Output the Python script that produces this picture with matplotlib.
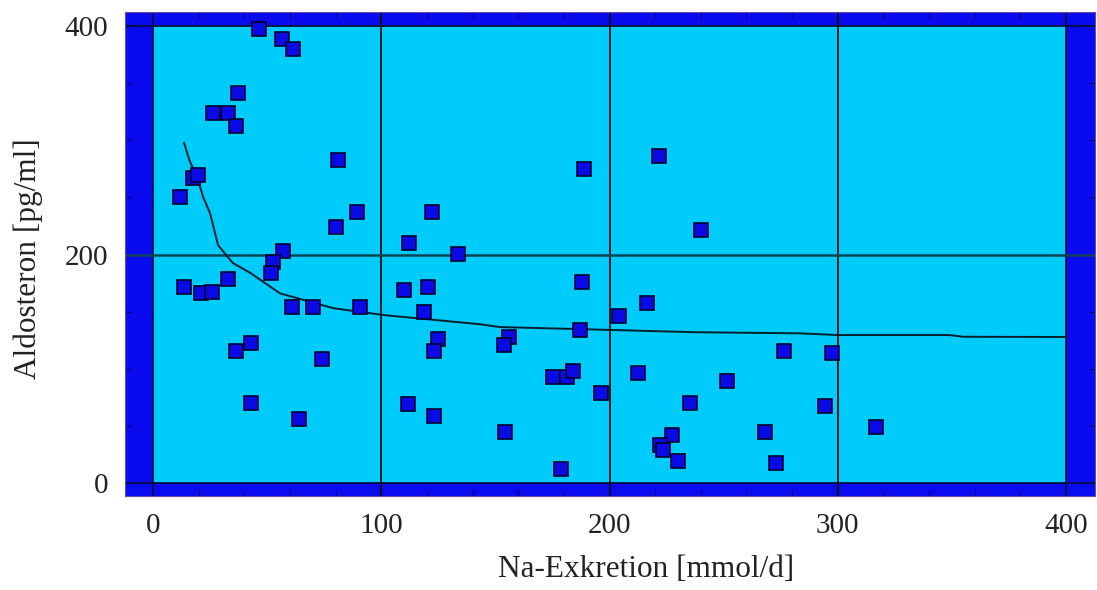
import matplotlib
matplotlib.use("Agg")
import matplotlib.pyplot as plt
from matplotlib.ticker import MultipleLocator

# ---- data ----
na_excretion = [46.6, 56.7, 61.2, 37.4, 26.4, 32.7, 36.4, 81.0, 17.4, 19.9,
                11.8, 89.2, 80.2, 122.4, 112.0, 133.5, 56.8, 52.7, 51.8, 13.7,
                20.9, 26.0, 32.7, 110.1, 120.3, 60.9, 70.0, 90.7, 118.7, 125.0,
                123.1, 36.4, 42.8, 74.2, 42.8, 64.0, 111.9, 123.1, 188.8, 221.7,
                240.0, 187.8, 216.3, 204.3, 187.1, 156.1, 153.8, 175.1, 181.5, 184.1,
                196.1, 212.6, 251.6, 276.4, 297.3, 235.3, 294.4, 154.2, 178.6, 227.2,
                222.1, 223.3, 230.1, 268.1, 272.9, 316.8]
aldosteron = [397.0, 389.0, 379.6, 341.0, 323.6, 323.6, 312.5, 283.0, 266.7, 269.6,
              250.6, 237.5, 224.4, 237.5, 209.8, 200.4, 203.3, 193.7, 184.0, 171.3,
              166.0, 167.4, 178.3, 169.0, 171.3, 154.3, 153.8, 153.8, 150.0, 125.8,
              115.8, 115.8, 122.8, 108.3, 69.8, 55.7, 68.9, 58.9, 274.6, 286.2,
              221.4, 176.2, 157.8, 146.2, 133.9, 128.0, 120.8, 93.0, 93.0, 98.3,
              78.5, 96.6, 89.3, 115.8, 113.5, 70.3, 67.4, 44.4, 12.0, 42.0,
              33.3, 28.9, 19.3, 44.4, 17.8, 49.3]

curve_x = [13.6, 16.0, 19.3, 22.0, 25.0, 28.5, 35.0, 42.5, 55.6, 79.0,
           101.0, 143.0, 152.0, 200.0, 237.0, 283.0, 300.0, 349.0, 355.0, 400.0]
curve_y = [297.6, 282.0, 268.0, 250.0, 236.0, 208.0, 192.5, 184.0, 166.0, 153.0,
           147.0, 139.0, 136.5, 134.0, 132.0, 131.0, 129.5, 129.5, 128.0, 127.8]

x_ticks = [0, 100, 200, 300, 400]
y_ticks = [0, 200, 400]
x_grid = [100, 200, 300]
y_grid = [200]
x_border = [0, 400]
y_border = [0, 400]

# ---- styling ----
OUTER = "#0a0aee"
INNER = "#00ccfc"
MARK = "#0a0ae6"
MARK_EDGE = "#00002a"

fig = plt.figure(figsize=(10.97, 5.90), dpi=100)
ax = fig.add_axes([125/1097, 1 - 496/590, 970/1097, 484/590])
ax.set_facecolor(OUTER)
XL = (-12.3, 412.7)
YL = (-11.4, 412.3)
ax.set_xlim(*XL)
ax.set_ylim(*YL)

# inner plotting area
ax.add_patch(plt.Rectangle((0, 0), 400, 400, facecolor=INNER,
                           edgecolor="none", zorder=1))

for bx in x_border:
    ax.plot([bx, bx], YL, color="#00103a", lw=1.3, zorder=2)
for by in y_border:
    ax.plot(XL, [by, by], color="#00103a", lw=1.3, zorder=2)
for gx in x_grid:
    ax.plot([gx, gx], YL, color="#06141c", lw=1.4, zorder=2)
for gy in y_grid:
    ax.plot(XL, [gy, gy], color="#0f4455", lw=1.8, zorder=2)

ax.plot(curve_x, curve_y, color="#05202a", lw=1.4, zorder=3)
ax.plot(na_excretion, aldosteron, linestyle="none", marker="s", markersize=9.5,
        markerfacecolor=MARK, markeredgecolor=MARK_EDGE, markeredgewidth=1.2,
        zorder=4)

ax.set_xticks(x_ticks)
ax.set_yticks(y_ticks)
ax.xaxis.set_minor_locator(MultipleLocator(20))
ax.yaxis.set_minor_locator(MultipleLocator(50))
ax.tick_params(which="major", length=0, pad=12, labelsize=21)
ax.tick_params(which="minor", direction="in", length=4, color="#000080",
               width=0.8, top=True, right=True)
for lab in ax.get_xticklabels() + ax.get_yticklabels():
    lab.set_fontfamily("Liberation Serif")
    lab.set_color("#222222")

for sp in ax.spines.values():
    sp.set_color("#6a4aa8")
    sp.set_linewidth(0.8)

ax.set_xlabel("Na-Exkretion [mmol/d]", fontsize=22.5, family="Liberation Serif",
              color="#222222")
ax.set_ylabel("Aldosteron [pg/ml]", fontsize=22.5, family="Liberation Serif",
              color="#222222")
ax.xaxis.set_label_coords(0.537, -0.122)
ax.yaxis.set_label_coords(-0.085, 0.49)

fig.savefig("out.png", dpi=100, facecolor="white")
